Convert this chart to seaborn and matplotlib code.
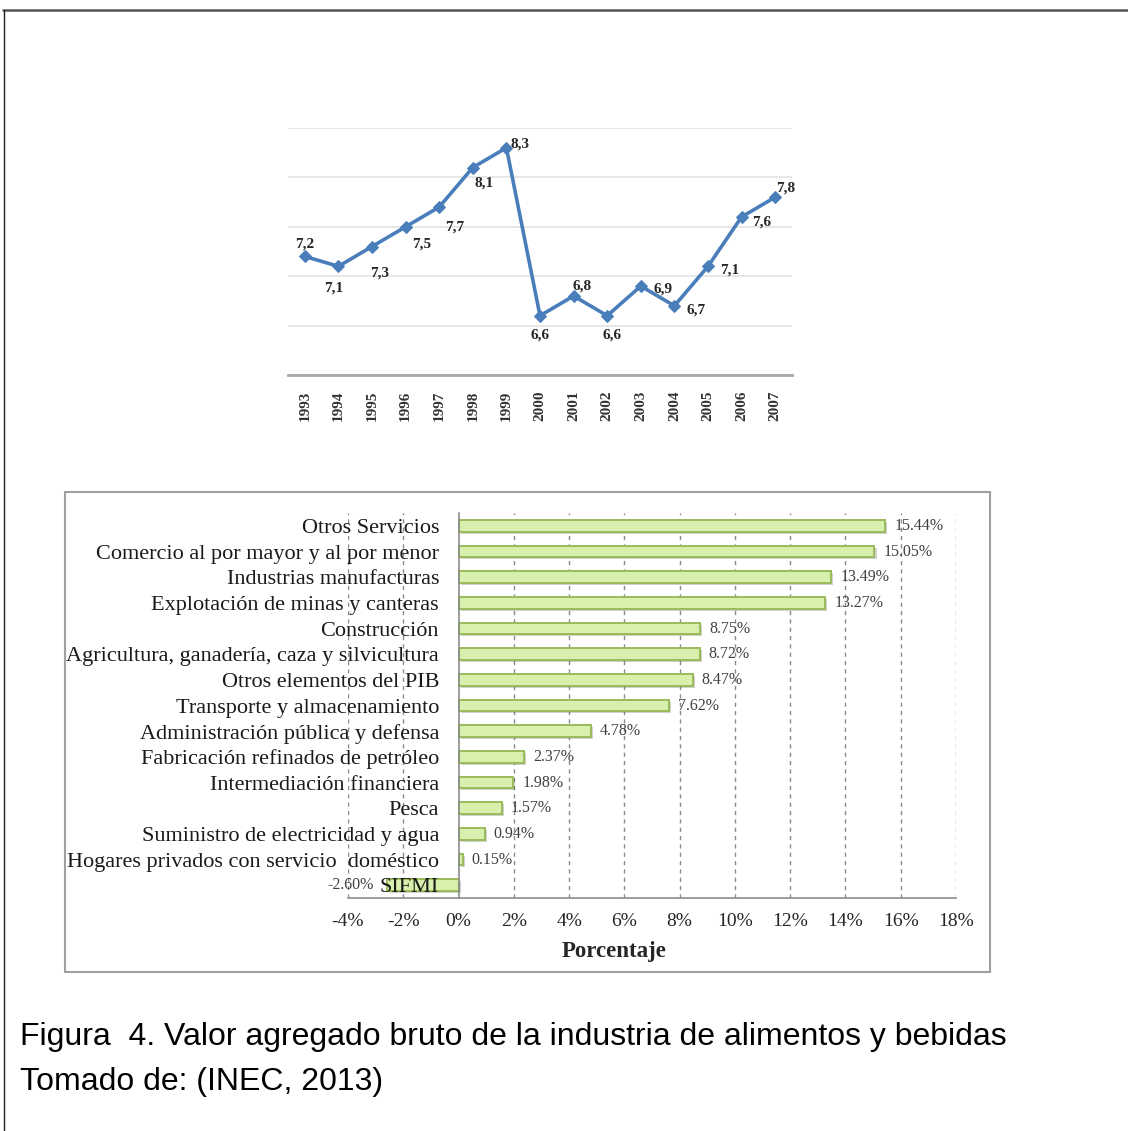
import numpy as np
import pandas as pd
import matplotlib
matplotlib.use("Agg")
import matplotlib.pyplot as plt
import seaborn as sns
from matplotlib import patheffects as pe
from matplotlib.patches import Rectangle
from matplotlib.lines import Line2D

# --- data -------------------------------------------------------------
years = [1993, 1994, 1995, 1996, 1997, 1998, 1999, 2000,
         2001, 2002, 2003, 2004, 2005, 2006, 2007]
vab = [7.2, 7.1, 7.3, 7.5, 7.7, 8.1, 8.3, 6.6,
       6.8, 6.6, 6.9, 6.7, 7.1, 7.6, 7.8]

sectores = [
    "Otros Servicios",
    "Comercio al por mayor y al por menor",
    "Industrias manufacturas",
    "Explotación de minas y canteras",
    "Construcción",
    "Agricultura, ganadería, caza y silvicultura",
    "Otros elementos del PIB",
    "Transporte y almacenamiento",
    "Administración pública y defensa",
    "Fabricación refinados de petróleo",
    "Intermediación financiera",
    "Pesca",
    "Suministro de electricidad y agua",
    "Hogares privados con servicio  doméstico",
    "SIFMI",
]
porcentajes = [15.44, 15.05, 13.49, 13.27, 8.75, 8.72, 8.47, 7.62,
               4.78, 2.37, 1.98, 1.57, 0.94, 0.15, -2.60]
x_ticks = [-4, -2, 0, 2, 4, 6, 8, 10, 12, 14, 16, 18]

# label placement around each point of the line (pixels)
label_offsets = [(0, 12), (-5, -22), (8, -26), (16, -17), (15, -20),
                 (11, -15), (14, 4), (0, -19), (8, 10), (5, -19),
                 (22, -3), (22, -4), (22, -4), (20, -5), (10, 9)]

# --- figure -----------------------------------------------------------
W, H = 1128, 1131
sns.set_style("white")
plt.rcParams["font.family"] = ["Liberation Serif", "DejaVu Serif"]

fig = plt.figure(figsize=(W / 100, H / 100), dpi=100)


def px_rect(x0, y0, x1, y1):
    return [x0 / W, 1 - y1 / H, (x1 - x0) / W, (y1 - y0) / H]


# --- line chart -------------------------------------------------------
ax1 = fig.add_axes(px_rect(288, 128, 792, 375))
line_df = pd.DataFrame({"anio": years, "valor": vab})
sns.lineplot(data=line_df, x="anio", y="valor", ax=ax1, color="#4a7ebb",
             linewidth=2.6, marker="D", markersize=6.5,
             markeredgecolor="#4a7ebb")
ax1.set_xlim(years[0] - 0.5, years[-1] + 0.5)
ax1.set_ylim(6, 8.5)
ax1.set_yticks(np.arange(6, 8.51, 0.5))
ax1.set_yticklabels([])
ax1.yaxis.grid(True, color="#e3e3e3", linewidth=1.2)
ax1.set_xticks(years)
ax1.set_xticklabels([str(y) for y in years], rotation=90,
                    fontsize=11, fontweight="bold", color="#333333")
ax1.tick_params(axis="both", length=0)
ax1.tick_params(axis="x", pad=11)
ax1.set_xlabel("")
ax1.set_ylabel("")
for s in ["top", "right", "left"]:
    ax1.spines[s].set_visible(False)
ax1.spines["bottom"].set_color("#a6a6a6")
ax1.spines["bottom"].set_linewidth(2)

for yr, v, (dx, dy) in zip(years, vab, label_offsets):
    ax1.annotate(f"{v:.1f}".replace(".", ","), xy=(yr, v), xytext=(dx, dy),
                 textcoords="offset pixels", ha="center", va="center",
                 fontsize=11, fontweight="bold", color="#262626")

# --- bar chart --------------------------------------------------------
ax2 = fig.add_axes(px_rect(348, 513, 956, 898))
bar_df = pd.DataFrame({"sector": sectores, "porcentaje": porcentajes})
sns.barplot(data=bar_df, y="sector", x="porcentaje", orient="h", ax=ax2,
            color="#d7f0ae", saturation=1, width=0.45,
            edgecolor="#9bbb59", linewidth=1.4)
for p in ax2.patches:
    p.set_zorder(1)
    p.set_path_effects([pe.SimplePatchShadow(offset=(1.5, -1.5),
                                             alpha=0.25), pe.Normal()])

# axis (tick labels, spines) drawn above the bars
ax2.set_axisbelow(False)
ax2.set_xlim(x_ticks[0], x_ticks[-1])
ax2.set_ylim(len(sectores) - 0.5, -0.5)
ax2.set_xticks(x_ticks)
ax2.set_xticklabels([f"{t}%" for t in x_ticks], fontsize=14,
                    color="#262626")
# dashed vertical guides behind the bars
for t in x_ticks:
    if t != 0:
        ax2.axvline(t, linestyle=(0, (3, 3)), color="#8a8a8a",
                    linewidth=1, zorder=0)
ax2.set_xlabel("")
ax2.set_ylabel("")

for s in ["top", "right"]:
    ax2.spines[s].set_visible(False)
ax2.spines["left"].set_position(("data", 0))
for s in ["left", "bottom"]:
    ax2.spines[s].set_color("#8c8c8c")
    ax2.spines[s].set_linewidth(1.2)

ax2.tick_params(axis="y", which="major", length=0, pad=14,
                labelsize=16, labelcolor="#1a1a1a")
ax2.set_yticks(np.arange(-0.5, len(sectores), 1), minor=True)
ax2.tick_params(axis="y", which="minor", length=4, color="#8c8c8c",
                direction="out")
ax2.tick_params(axis="x", which="major", length=6, direction="inout",
                color="#8c8c8c", pad=8)

for i, v in enumerate(porcentajes):
    if v >= 0:
        ax2.annotate(f"{v:.2f}%", xy=(v, i), xytext=(9, 0),
                     textcoords="offset pixels", ha="left", va="center",
                     fontsize=11.5, color="#404040")
    else:
        ax2.annotate(f"{v:.2f}%", xy=(v, i), xytext=(-13, 0),
                     textcoords="offset pixels", ha="right", va="center",
                     fontsize=11.5, color="#404040")

fig.text(614 / W, 1 - 952 / H, "Porcentaje", ha="center", va="center",
         fontsize=16.5, fontweight="bold", color="#262626")

fig.add_artist(Rectangle((65 / W, 1 - 972 / H), (990 - 65) / W,
                         (972 - 492) / H, transform=fig.transFigure,
                         fill=False, edgecolor="#a0a0a0", linewidth=1.5))

# --- page frame and caption -------------------------------------------
fig.add_artist(Line2D([3 / W, 1], [1 - 9.5 / H, 1 - 9.5 / H],
                      transform=fig.transFigure, color="#555555",
                      linewidth=1.8))
fig.add_artist(Line2D([3.5 / W, 3.5 / W], [1 - 9.5 / H, 0],
                      transform=fig.transFigure, color="#222222",
                      linewidth=1))

fig.text(20 / W, 1 - 1037 / H,
         "Figura  4. Valor agregado bruto de la industria de alimentos y bebidas",
         family="Liberation Sans", fontsize=23, va="center", ha="left",
         color="#000000")
fig.text(20 / W, 1 - 1082 / H, "Tomado de: (INEC, 2013)",
         family="Liberation Sans", fontsize=23, va="center", ha="left",
         color="#000000")

fig.savefig("out.png", dpi=100)
